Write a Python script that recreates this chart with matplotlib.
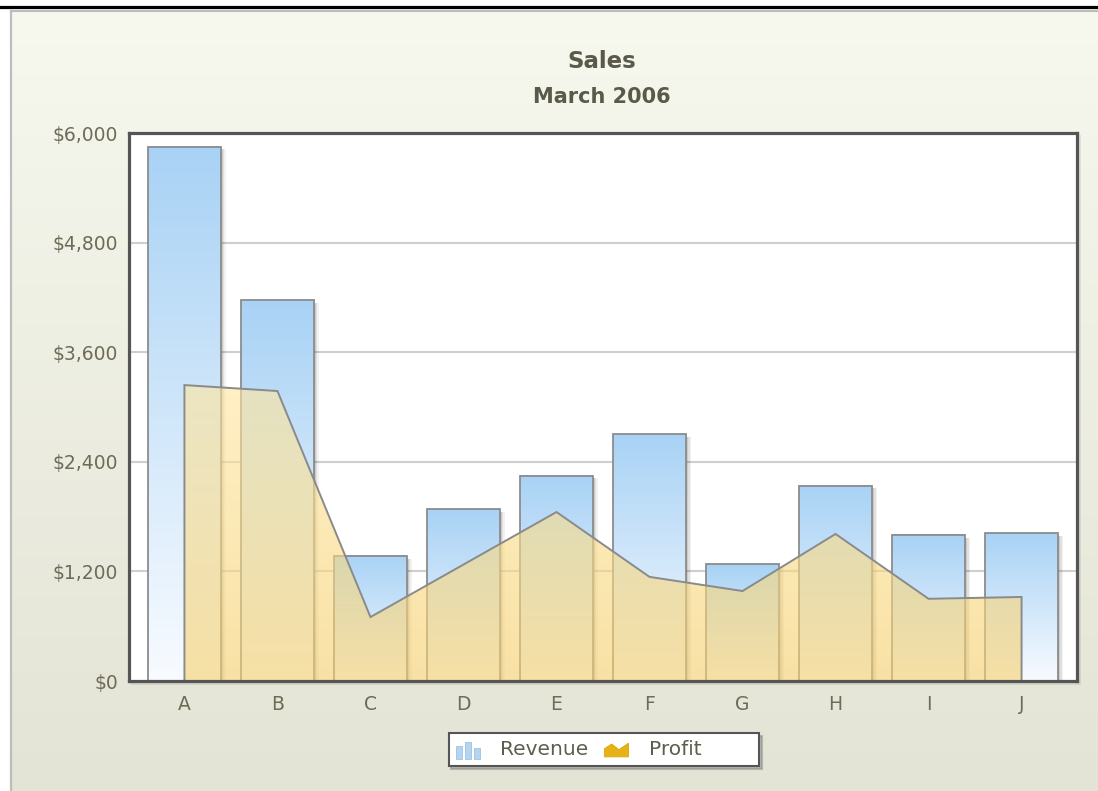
import matplotlib
matplotlib.use("Agg")
import matplotlib.pyplot as plt
import numpy as np
from matplotlib.colors import LinearSegmentedColormap
from matplotlib.patches import Rectangle, Polygon
from matplotlib.legend_handler import HandlerBase
from matplotlib.ticker import FuncFormatter

# ---------------- data ----------------
categories = ['A', 'B', 'C', 'D', 'E', 'F', 'G', 'H', 'I', 'J']
revenue = [5850, 4170, 1370, 1880, 2250, 2700, 1280, 2140, 1600, 1620]
profit = [3240, 3175, 700, 1275, 1850, 1140, 985, 1610, 900, 920]
y_ticks = [0, 1200, 2400, 3600, 4800, 6000]

title_txt = 'Sales'
subtitle_txt = 'March 2006'

W, H = 1098, 791
fig = plt.figure(figsize=(W / 100, H / 100), dpi=100)
fig.patch.set_facecolor('white')

# ---------------- background panel ----------------
bg = fig.add_axes([0, 0, 1, 1], zorder=-10)
bg.set_xlim(0, W)
bg.set_ylim(H, 0)
bg.axis('off')
bg_cmap = LinearSegmentedColormap.from_list('bg', ['#F7F8EE', '#E3E4D5'])
bg.imshow(np.linspace(0, 1, 256).reshape(-1, 1), cmap=bg_cmap, aspect='auto',
          extent=(11, W, H, 11))
bg.plot([11, 11], [11, H], color='#BDBDBD', lw=1.6)
bg.plot([11, W], [11, 11], color='#BDBDBD', lw=1.6)
bg.plot([0, W], [7, 7], color='black', lw=2.3)
# soft shadow of the plot area
bg.add_patch(Rectangle((131, 135), 950, 550, facecolor='#000000', alpha=0.08, lw=0))

fig.text(0.5483, 1 - 61 / H, title_txt, ha='center', va='center',
         fontsize=16.5, fontweight='bold', color='#5A594A')
fig.text(0.5483, 1 - 97 / H, subtitle_txt, ha='center', va='center',
         fontsize=15, fontweight='bold', color='#5A594A')

# ---------------- main plot ----------------
ax = fig.add_axes([129 / W, (H - 681) / H, 948 / W, 548 / H])
ax.set_facecolor('white')
x = np.arange(len(categories))
bw = 0.78

bar_cmap = LinearSegmentedColormap.from_list('bar', ['#F8FBFF', '#A8D2F5'])
grad = np.linspace(0, 1, 256).reshape(-1, 1)
for xi, v in zip(x, revenue):
    # soft shadow to the right
    for k, a in [(0.055, 0.05), (0.04, 0.07), (0.025, 0.09), (0.012, 0.10)]:
        ax.add_patch(Rectangle((xi - bw / 2 + k, 0), bw, v - 30, facecolor='black',
                               alpha=a, lw=0, zorder=2))
    ax.imshow(grad, cmap=bar_cmap, origin='lower', aspect='auto',
              extent=(xi - bw / 2, xi + bw / 2, 0, v), zorder=3)
    ax.add_patch(Rectangle((xi - bw / 2, 0), bw, v, facecolor='none',
                           edgecolor='#8C8C8C', lw=1.3, zorder=4))

# profit area
verts = [(x[0], 0)] + list(zip(x, profit)) + [(x[-1], 0)]
poly = Polygon(verts, closed=True, facecolor='none', edgecolor='#8A8A8A',
               lw=1.4, zorder=6)
ax.add_patch(poly)
area_cmap = LinearSegmentedColormap.from_list('area', ['#F6D06E', '#FFE7A2'])
im = ax.imshow(grad, cmap=area_cmap, origin='lower', aspect='auto', alpha=0.62,
               extent=(x[0], x[-1], 0, max(profit)), zorder=5)
im.set_clip_path(poly)

ax.set_xlim(-0.596, len(categories) - 1 + 0.596)
ax.set_ylim(0, 6000)
ax.set_xticks(x)
ax.set_xticklabels(categories)
ax.set_yticks(y_ticks)
ax.yaxis.set_major_formatter(FuncFormatter(lambda v, p: '${:,.0f}'.format(v)))
ax.tick_params(axis='both', length=0, labelsize=13.5, labelcolor='#6E6B56')
ax.tick_params(axis='x', pad=10)
ax.tick_params(axis='y', pad=8)
ax.grid(axis='y', color='#CFCFCF', lw=1.5, zorder=1)
ax.set_axisbelow(True)
for s in ax.spines.values():
    s.set_color('#555555')
    s.set_linewidth(2.3)
    s.set_zorder(10)


# ---------------- legend ----------------
class BarIcon(HandlerBase):
    def create_artists(self, legend, orig_handle, xdescent, ydescent,
                       width, height, fontsize, trans):
        arts = []
        bw_ = width * 0.24
        for i, hf in enumerate([0.85, 1.1, 0.7]):
            r = Rectangle((-xdescent + i * width * 0.38, -ydescent - height * 0.2),
                          bw_, height * hf, facecolor='#B3D5F2', edgecolor='#9CC2E4',
                          lw=0.6, transform=trans)
            arts.append(r)
        return arts


class AreaIcon(HandlerBase):
    def create_artists(self, legend, orig_handle, xdescent, ydescent,
                       width, height, fontsize, trans):
        x0, y0 = -xdescent, -ydescent - height * 0.05
        pts = [(x0, y0), (x0, y0 + height * 0.5), (x0 + width * 0.3, y0 + height * 0.8),
               (x0 + width * 0.6, y0 + height * 0.45), (x0 + width, y0 + height * 0.85),
               (x0 + width, y0)]
        return [Polygon(pts, closed=True, facecolor='#E6B215', edgecolor='#D9A70C',
                        lw=0.6, transform=trans)]


h_bar = Rectangle((0, 0), 1, 1)
h_area = Polygon([(0, 0), (1, 1), (1, 0)])
leg = fig.legend([h_bar, h_area], ['Revenue', 'Profit' + ' ' * 8], loc='center',
                 bbox_to_anchor=(604 / W, 1 - 749.5 / H), ncol=2, frameon=True,
                 fancybox=False, fontsize=14.5, handlelength=1.2, handleheight=0.85,
                 handletextpad=1.0, columnspacing=0.8, borderpad=0.35,
                 handler_map={Rectangle: BarIcon(), Polygon: AreaIcon()},
                 shadow={'color': '#888888', 'alpha': 0.5})
leg.get_frame().set_edgecolor('#555555')
leg.get_frame().set_linewidth(1.5)
for t in leg.get_texts():
    t.set_color('#5F5E4E')

fig.savefig('out.png', dpi=100)
